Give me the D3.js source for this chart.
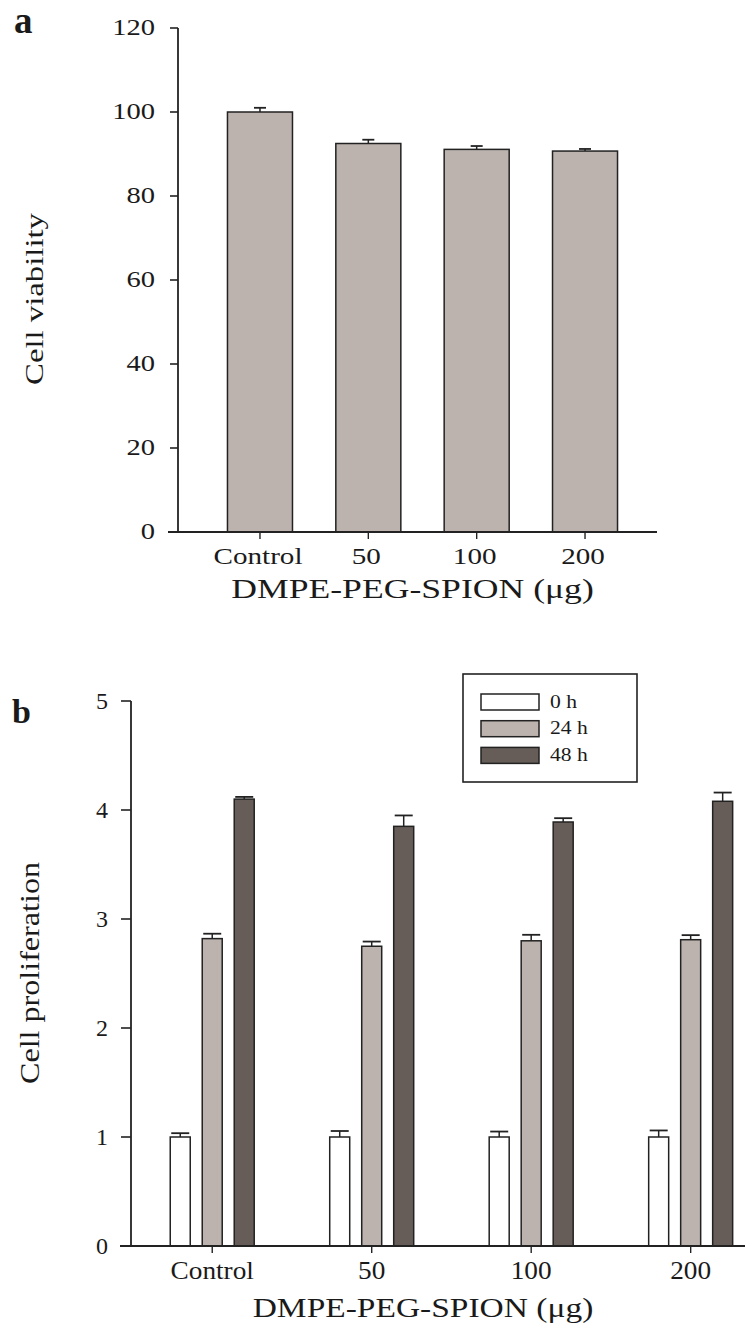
<!DOCTYPE html>
<html>
<head>
<meta charset="utf-8">
<script src="https://cdn.jsdelivr.net/npm/d3@7"></script>
<style>
  html, body { margin: 0; padding: 0; background: #fff; }
  svg { display: block; }
  text { font-family: "Liberation Serif", "Times New Roman", serif; fill: #1a1a1a; }
</style>
</head>
<body>
<svg id="chart" width="745" height="1324"></svg>
<script>
// ---------- DATA ----------
const categories = ["Control", "50", "100", "200"];

// Panel a: cell viability
const viability = [100, 92.5, 91.1, 90.7];
const viabilityErr = [1.0, 0.9, 0.8, 0.5];
const ticksA = [0, 20, 40, 60, 80, 100, 120];

// Panel b: cell proliferation
const seriesNames = ["0 h", "24 h", "48 h"];
const prolif0h = [1.0, 1.0, 1.0, 1.0];
const prolif0hErr = [0.035, 0.055, 0.05, 0.06];
const prolif24h = [2.82, 2.75, 2.80, 2.81];
const prolif24hErr = [0.045, 0.043, 0.055, 0.042];
const prolif48h = [4.10, 3.85, 3.89, 4.08];
const prolif48hErr = [0.02, 0.10, 0.035, 0.08];
const ticksB = [0, 1, 2, 3, 4, 5];

const xTitle = "DMPE-PEG-SPION (\u03bcg)";

// ---------- HELPERS ----------
const svg = d3.select("#chart");
const INK = "#222";
const barFillA = "#bcb3ae";
const seriesFill = ["#ffffff", "#bcb3ae", "#665c58"];

function label(g, o) {
  const t = g.append("text")
    .attr("transform", `translate(${o.x},${o.y}) rotate(${o.rotate || 0}) scale(${o.sx || 1},1)`)
    .attr("text-anchor", o.anchor || "start")
    .attr("font-size", o.size)
    .attr("font-weight", o.weight || "normal")
    .text(o.text);
  return t;
}

// ---------- PANEL A ----------
const gA = svg.append("g");
const xA = d3.scaleBand().domain(categories).range([205.8, 639.2]).paddingInner(0.4).paddingOuter(0.2);
const yA = d3.scaleLinear().domain([0, 120]).range([532, 28]);
const axisLeftA = 178;

// bars
gA.selectAll("rect.bar").data(categories).join("rect")
  .attr("x", d => xA(d))
  .attr("y", (d, i) => yA(viability[i]))
  .attr("width", xA.bandwidth())
  .attr("height", (d, i) => yA(0) - yA(viability[i]))
  .attr("fill", barFillA).attr("stroke", INK).attr("stroke-width", 1.5);

// error bars (upper only)
const capA = 12;
categories.forEach((c, i) => {
  const cx = xA(c) + xA.bandwidth() / 2;
  const top = yA(viability[i] + viabilityErr[i]);
  gA.append("line").attr("x1", cx).attr("x2", cx).attr("y1", yA(viability[i])).attr("y2", top)
    .attr("stroke", INK).attr("stroke-width", 1.5);
  gA.append("line").attr("x1", cx - capA / 2).attr("x2", cx + capA / 2).attr("y1", top).attr("y2", top)
    .attr("stroke", INK).attr("stroke-width", 1.8);
});

// y axis
gA.append("line").attr("x1", axisLeftA).attr("x2", axisLeftA).attr("y1", yA(120)).attr("y2", yA(0))
  .attr("stroke", INK).attr("stroke-width", 1.8);
ticksA.forEach(v => {
  gA.append("line").attr("x1", axisLeftA - 8).attr("x2", axisLeftA).attr("y1", yA(v)).attr("y2", yA(v))
    .attr("stroke", INK).attr("stroke-width", 1.6);
  label(gA, { x: 155, y: yA(v) + 7.3, text: String(v), size: 22.5, sx: 1.27, anchor: "end" });
});
// x axis
gA.append("line").attr("x1", 168).attr("x2", 657).attr("y1", yA(0)).attr("y2", yA(0))
  .attr("stroke", INK).attr("stroke-width", 1.8);
categories.forEach(c => {
  const cx = xA(c) + xA.bandwidth() / 2;
  gA.append("line").attr("x1", cx).attr("x2", cx).attr("y1", yA(0)).attr("y2", yA(0) + 7)
    .attr("stroke", INK).attr("stroke-width", 1.4);
  label(gA, { x: cx - 2, y: 564, text: c, size: 23.5, sx: 1.24, anchor: "middle" });
});
label(gA, { x: 412.5, y: 598, text: xTitle, size: 27, sx: 1.32, anchor: "middle" });
label(gA, { x: 43, y: 299, text: "Cell viability", size: 26, sx: 1.26, anchor: "middle", rotate: -90 });
label(gA, { x: 14, y: 33, text: "a", size: 37, weight: "bold" });

// ---------- PANEL B ----------
const gB = svg.append("g");
const xB = d3.scaleBand().domain(categories).range([90.5, 812.4]).paddingInner(0.4734).paddingOuter(0.5);
const xInner = d3.scaleBand().domain(seriesNames).range([0, xB.bandwidth()]).paddingInner(0.375).paddingOuter(0);
const yB = d3.scaleLinear().domain([0, 5]).range([1246, 701]);
const axisLeftB = 131;

const seriesVals = [prolif0h, prolif24h, prolif48h];
const seriesErr = [prolif0hErr, prolif24hErr, prolif48hErr];
const flat = [];
categories.forEach((c, i) => seriesNames.forEach((s, j) => flat.push({ c, s, j, v: seriesVals[j][i], e: seriesErr[j][i] })));

gB.selectAll("rect.bar").data(flat).join("rect")
  .attr("x", d => xB(d.c) + xInner(d.s))
  .attr("y", d => yB(d.v))
  .attr("width", xInner.bandwidth())
  .attr("height", d => yB(0) - yB(d.v))
  .attr("fill", d => seriesFill[d.j]).attr("stroke", INK).attr("stroke-width", 1.5);

const capB = 18;
flat.forEach(d => {
  const cx = xB(d.c) + xInner(d.s) + xInner.bandwidth() / 2;
  const top = yB(d.v + d.e);
  gB.append("line").attr("x1", cx).attr("x2", cx).attr("y1", yB(d.v)).attr("y2", top)
    .attr("stroke", INK).attr("stroke-width", 1.5);
  gB.append("line").attr("x1", cx - capB / 2).attr("x2", cx + capB / 2).attr("y1", top).attr("y2", top)
    .attr("stroke", INK).attr("stroke-width", 1.8);
});

// y axis
gB.append("line").attr("x1", axisLeftB).attr("x2", axisLeftB).attr("y1", yB(5)).attr("y2", yB(0))
  .attr("stroke", INK).attr("stroke-width", 1.8);
ticksB.forEach(v => {
  gB.append("line").attr("x1", axisLeftB - 10).attr("x2", axisLeftB).attr("y1", yB(v)).attr("y2", yB(v))
    .attr("stroke", INK).attr("stroke-width", 1.6);
  label(gB, { x: 108, y: yB(v) + 7.5, text: String(v), size: 24, anchor: "end" });
});
// x axis
gB.append("line").attr("x1", 120).attr("x2", 745).attr("y1", yB(0)).attr("y2", yB(0))
  .attr("stroke", INK).attr("stroke-width", 1.8);
categories.forEach(c => {
  const cx = xB(c) + xB.bandwidth() / 2;
  gB.append("line").attr("x1", cx).attr("x2", cx).attr("y1", yB(0)).attr("y2", yB(0) + 7)
    .attr("stroke", INK).attr("stroke-width", 1.4);
  label(gB, { x: cx, y: 1279, text: c, size: 26, sx: 1.05, anchor: "middle" });
});
label(gB, { x: 423, y: 1317, text: xTitle, size: 27, sx: 1.24, anchor: "middle" });
label(gB, { x: 39, y: 973, text: "Cell proliferation", size: 27, sx: 1.19, anchor: "middle", rotate: -90 });
label(gB, { x: 12, y: 723, text: "b", size: 34, weight: "bold" });

// legend
const lg = gB.append("g");
lg.append("rect").attr("x", 463).attr("y", 674).attr("width", 174).attr("height", 108)
  .attr("fill", "#fff").attr("stroke", INK).attr("stroke-width", 1.6);
seriesNames.forEach((s, j) => {
  const yy = 694 + j * 26.7;
  lg.append("rect").attr("x", 481).attr("y", yy).attr("width", 58).attr("height", 16)
    .attr("fill", seriesFill[j]).attr("stroke", INK).attr("stroke-width", 1.5);
  label(lg, { x: 550, y: yy + 13.5, text: s, size: 18, sx: 1.2 });
});
</script>
</body>
</html>
